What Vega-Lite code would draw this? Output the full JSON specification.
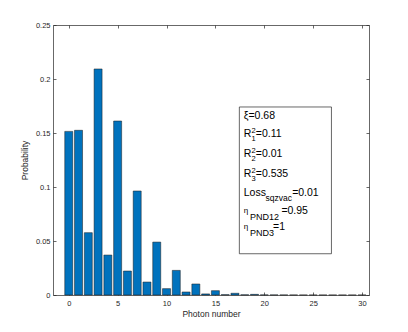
{
  "$schema": "https://vega.github.io/schema/vega-lite/v6.json",
  "width": 316,
  "height": 270,
  "autosize": "none",
  "padding": {"left": 53, "top": 25, "right": 39, "bottom": 37},
  "background": "white",
  "config": {
    "view": {"stroke": null},
    "font": "Liberation Sans",
    "text": {"font": "Liberation Sans"},
    "axis": {
      "domainColor": "#262626",
      "domainWidth": 0.7,
      "tickColor": "#262626",
      "tickWidth": 0.7,
      "tickSize": -3,
      "labelFont": "Liberation Sans",
      "labelFontSize": 7.5,
      "labelColor": "#262626",
      "titleFont": "Liberation Sans",
      "titleFontSize": 8.5,
      "titleFontWeight": "normal",
      "titleColor": "#262626",
      "grid": false
    }
  },
  "datasets": {
    "bars": [
      {"n": 0, "p": 0.1515}, {"n": 1, "p": 0.1525}, {"n": 2, "p": 0.0577},
      {"n": 3, "p": 0.2093}, {"n": 4, "p": 0.037}, {"n": 5, "p": 0.1611},
      {"n": 6, "p": 0.0222}, {"n": 7, "p": 0.0963}, {"n": 8, "p": 0.012},
      {"n": 9, "p": 0.049}, {"n": 10, "p": 0.0059}, {"n": 11, "p": 0.0228},
      {"n": 12, "p": 0.0028}, {"n": 13, "p": 0.0102}, {"n": 14, "p": 0.001},
      {"n": 15, "p": 0.004}, {"n": 16, "p": 0.0003}, {"n": 17, "p": 0.0016},
      {"n": 18, "p": 0.0002}, {"n": 19, "p": 0.0006}, {"n": 20, "p": 0.0001},
      {"n": 21, "p": 0.00008}, {"n": 22, "p": 0.00005}, {"n": 23, "p": 0.00003},
      {"n": 24, "p": 0.00002}, {"n": 25, "p": 0.00001}, {"n": 26, "p": 0.00001},
      {"n": 27, "p": 0.00001}, {"n": 28, "p": 0.00001}, {"n": 29, "p": 0.00001},
      {"n": 30, "p": 0.00001}
    ],
    "one": [{"k": 1}]
  },
  "data": {"name": "one"},
  "resolve": {"axis": {"x": "independent", "y": "independent"}},
  "layer": [
    {
      "data": {"name": "bars"},
      "mark": {"type": "bar", "size": 8, "color": "#0072BD", "stroke": "#1a1a1a", "strokeWidth": 0.5},
      "encoding": {
        "x": {"field": "n", "type": "quantitative", "scale": {"domain": [-1.1, 30.2], "nice": false, "zero": false},
              "axis": {"values": [0, 5, 10, 15, 20, 25, 30], "title": "Photon number", "labelPadding": 7, "titlePadding": 3}},
        "y": {"field": "p", "type": "quantitative", "scale": {"domain": [0, 0.25], "nice": false},
              "axis": {"values": [0, 0.05, 0.1, 0.15, 0.2, 0.25], "format": "~g", "title": "Probability", "labelPadding": 6, "titlePadding": 6}}
      }
    },
    {
      "data": {"name": "bars"},
      "mark": {"type": "point", "opacity": 0},
      "encoding": {
        "x": {"field": "n", "type": "quantitative", "axis": {"orient": "top", "values": [0, 5, 10, 15, 20, 25, 30], "labels": false, "title": null}},
        "y": {"field": "p", "type": "quantitative", "axis": {"orient": "right", "values": [0, 0.05, 0.1, 0.15, 0.2, 0.25], "labels": false, "title": null}}
      }
    },
    {
      "mark": {"type": "rect", "fill": "white", "stroke": "#262626", "strokeWidth": 0.7},
      "encoding": {
        "x": {"datum": 17.45, "axis": null}, "x2": {"datum": 26.87},
        "y": {"datum": 0.1741, "axis": null}, "y2": {"datum": 0.0382}
      }
    },
    {"mark": {"type": "text", "align": "left", "baseline": "alphabetic", "fontSize": 10.5, "color": "black"},
     "encoding": {"x": {"datum": 17.9, "axis": null}, "y": {"datum": 0.1627, "axis": null}, "text": {"value": "ξ=0.68"}}},

    {"mark": {"type": "text", "align": "left", "baseline": "alphabetic", "fontSize": 10.5, "color": "black"},
     "encoding": {"x": {"datum": 17.9, "axis": null}, "y": {"datum": 0.1463, "axis": null}, "text": {"value": "R"}}},
    {"mark": {"type": "text", "align": "left", "baseline": "alphabetic", "fontSize": 7.5, "dy": -3.5, "color": "black"},
     "encoding": {"x": {"datum": 18.7, "axis": null}, "y": {"datum": 0.1463, "axis": null}, "text": {"value": "2"}}},
    {"mark": {"type": "text", "align": "left", "baseline": "alphabetic", "fontSize": 7.5, "dy": 4, "color": "black"},
     "encoding": {"x": {"datum": 18.7, "axis": null}, "y": {"datum": 0.1463, "axis": null}, "text": {"value": "1"}}},
    {"mark": {"type": "text", "align": "left", "baseline": "alphabetic", "fontSize": 10.5, "color": "black"},
     "encoding": {"x": {"datum": 19.13, "axis": null}, "y": {"datum": 0.1463, "axis": null}, "text": {"value": "=0.11"}}},

    {"mark": {"type": "text", "align": "left", "baseline": "alphabetic", "fontSize": 10.5, "color": "black"},
     "encoding": {"x": {"datum": 17.9, "axis": null}, "y": {"datum": 0.1278, "axis": null}, "text": {"value": "R"}}},
    {"mark": {"type": "text", "align": "left", "baseline": "alphabetic", "fontSize": 7.5, "dy": -3.5, "color": "black"},
     "encoding": {"x": {"datum": 18.7, "axis": null}, "y": {"datum": 0.1278, "axis": null}, "text": {"value": "2"}}},
    {"mark": {"type": "text", "align": "left", "baseline": "alphabetic", "fontSize": 7.5, "dy": 4, "color": "black"},
     "encoding": {"x": {"datum": 18.7, "axis": null}, "y": {"datum": 0.1278, "axis": null}, "text": {"value": "2"}}},
    {"mark": {"type": "text", "align": "left", "baseline": "alphabetic", "fontSize": 10.5, "color": "black"},
     "encoding": {"x": {"datum": 19.13, "axis": null}, "y": {"datum": 0.1278, "axis": null}, "text": {"value": "=0.01"}}},

    {"mark": {"type": "text", "align": "left", "baseline": "alphabetic", "fontSize": 10.5, "color": "black"},
     "encoding": {"x": {"datum": 17.9, "axis": null}, "y": {"datum": 0.1093, "axis": null}, "text": {"value": "R"}}},
    {"mark": {"type": "text", "align": "left", "baseline": "alphabetic", "fontSize": 7.5, "dy": -3.5, "color": "black"},
     "encoding": {"x": {"datum": 18.7, "axis": null}, "y": {"datum": 0.1093, "axis": null}, "text": {"value": "2"}}},
    {"mark": {"type": "text", "align": "left", "baseline": "alphabetic", "fontSize": 7.5, "dy": 4, "color": "black"},
     "encoding": {"x": {"datum": 18.7, "axis": null}, "y": {"datum": 0.1093, "axis": null}, "text": {"value": "3"}}},
    {"mark": {"type": "text", "align": "left", "baseline": "alphabetic", "fontSize": 10.5, "color": "black"},
     "encoding": {"x": {"datum": 19.13, "axis": null}, "y": {"datum": 0.1093, "axis": null}, "text": {"value": "=0.535"}}},

    {"mark": {"type": "text", "align": "left", "baseline": "alphabetic", "fontSize": 10.5, "color": "black"},
     "encoding": {"x": {"datum": 17.9, "axis": null}, "y": {"datum": 0.0917, "axis": null}, "text": {"value": "Loss"}}},
    {"mark": {"type": "text", "align": "left", "baseline": "alphabetic", "fontSize": 8.5, "dy": 5, "color": "black"},
     "encoding": {"x": {"datum": 20.12, "axis": null}, "y": {"datum": 0.0917, "axis": null}, "text": {"value": "sqzvac"}}},
    {"mark": {"type": "text", "align": "left", "baseline": "alphabetic", "fontSize": 10.5, "color": "black"},
     "encoding": {"x": {"datum": 22.85, "axis": null}, "y": {"datum": 0.0917, "axis": null}, "text": {"value": "=0.01"}}},

    {"mark": {"type": "text", "align": "left", "baseline": "alphabetic", "fontSize": 8, "dy": -1, "color": "black"},
     "encoding": {"x": {"datum": 17.9, "axis": null}, "y": {"datum": 0.0753, "axis": null}, "text": {"value": "η"}}},
    {"mark": {"type": "text", "align": "left", "baseline": "alphabetic", "fontSize": 9, "dy": 6, "color": "black"},
     "encoding": {"x": {"datum": 18.55, "axis": null}, "y": {"datum": 0.0753, "axis": null}, "text": {"value": "PND12"}}},
    {"mark": {"type": "text", "align": "left", "baseline": "alphabetic", "fontSize": 10.5, "color": "black"},
     "encoding": {"x": {"datum": 21.75, "axis": null}, "y": {"datum": 0.0753, "axis": null}, "text": {"value": "=0.95"}}},

    {"mark": {"type": "text", "align": "left", "baseline": "alphabetic", "fontSize": 8, "dy": -1, "color": "black"},
     "encoding": {"x": {"datum": 17.9, "axis": null}, "y": {"datum": 0.0599, "axis": null}, "text": {"value": "η"}}},
    {"mark": {"type": "text", "align": "left", "baseline": "alphabetic", "fontSize": 9, "dy": 6, "color": "black"},
     "encoding": {"x": {"datum": 18.55, "axis": null}, "y": {"datum": 0.0599, "axis": null}, "text": {"value": "PND3"}}},
    {"mark": {"type": "text", "align": "left", "baseline": "alphabetic", "fontSize": 10.5, "color": "black"},
     "encoding": {"x": {"datum": 20.9, "axis": null}, "y": {"datum": 0.0599, "axis": null}, "text": {"value": "=1"}}}
  ]
}
